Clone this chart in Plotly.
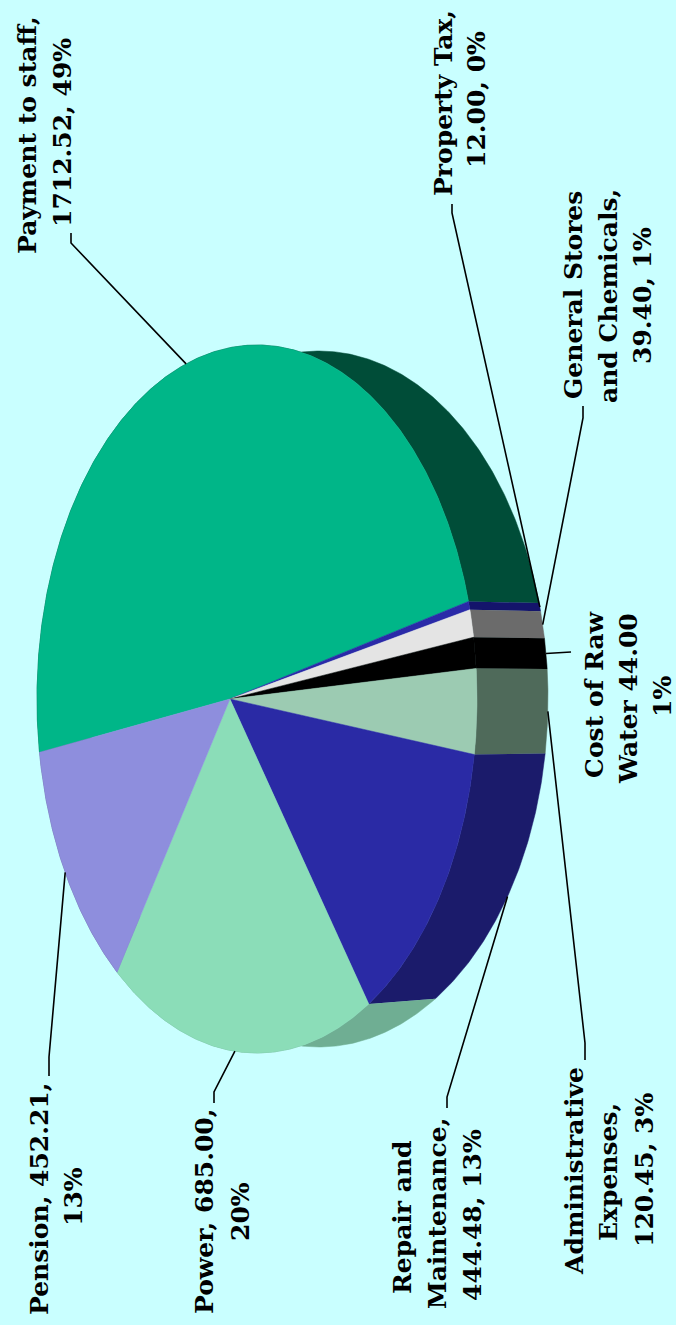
import numpy as np
import plotly.graph_objects as go

# Cost heads, clockwise from the start of the largest slice
categories = ["Payment to staff", "Property Tax", "General Stores and Chemicals", "Cost of Raw Water",
              "Administrative Expenses", "Repair and Maintenance", "Power", "Pension"]
values = [1712.52, 12.00, 39.40, 44.00, 120.45, 444.48, 685.00, 452.21]

top_colors = ["#00B688", "#2A2AA8", "#E4E4E4", "#000000", "#9CCBB2", "#2A2AA5", "#8BDDB8", "#8E8EDD"]
wall_colors = ["#004D38", "#14146B", "#6B6B6B", "#000000", "#4F6A5A", "#1B1B6B", "#6FAE93", "#5F5F95"]

# Label lines as (text, x centre, y centre)
label_lines = [
    [("Payment to staff,", 27, 135), ("1712.52, 49%", 62, 133)],
    [("Property Tax,", 443, 103), ("12.00, 0%", 476, 100)],
    [("General Stores", 573, 295), ("and Chemicals,", 608, 296), ("39.40, 1%", 642, 296)],
    [("Cost of Raw", 594, 694), ("Water 44.00", 628, 699), ("1%", 662, 697)],
    [("Administrative", 574, 1171), ("Expenses,", 608, 1172), ("120.45, 3%", 644, 1170)],
    [("Repair and", 402, 1217), ("Maintenance,", 437, 1214), ("444.48, 13%", 472, 1215)],
    [("Power, 685.00,", 204, 1212), ("20%", 240, 1212)],
    [("Pension, 452.21,", 39, 1199), ("13%", 73, 1197)],
]

# Leader line bends on the way to each label
leader_paths = [
    [(71, 243), (71, 233)],
    [(452, 213), (452, 204)],
    [(583, 418), (583, 406)],
    [(571, 652)],
    [(585, 1043), (585, 1060)],
    [(447, 1097), (447, 1108)],
    [(214, 1092), (214, 1103)],
    [(49, 1057), (49, 1076)],
]

BACKGROUND = "#C9FFFF"
START_DEG = 170.2
TOP = dict(cx=257, cy=699, a=220, b=354)
BOTTOM = dict(cx=319, cy=699, a=229, b=348)
TILT = -0.123


def project(theta_deg, face):
    """Perspective view of a point on the pie rim for an angle around its true circle."""
    t = np.radians(theta_deg)
    u0, v0 = np.cos(t), np.sin(t)
    d = 1 + TILT * u0
    u = (u0 + TILT) / d
    v = v0 * np.sqrt(1 - TILT ** 2) / d
    return face["cx"] + face["a"] * u, face["cy"] + face["b"] * v


total = sum(values)
sweeps = [v / total * 360 for v in values]
starts = START_DEG + np.concatenate([[0], np.cumsum(sweeps)[:-1]])
apex_x, apex_y = TOP["cx"] + TOP["a"] * TILT, TOP["cy"]

fig = go.Figure()


def polygon(xs, ys, color):
    fig.add_trace(go.Scatter(x=xs, y=ys, mode="lines", fill="toself", fillcolor=color,
                             line=dict(color=color, width=0.5), hoverinfo="skip", showlegend=False))


# Side walls first, so the top face covers whatever lies behind it
for start, sweep, color in zip(starts, sweeps, wall_colors):
    angles = np.linspace(start, start + sweep, max(4, int(sweep * 2)))
    tx, ty = project(angles, TOP)
    bx, by = project(angles[::-1], BOTTOM)
    polygon(np.concatenate([tx, bx]), np.concatenate([ty, by]), color)

for start, sweep, color in zip(starts, sweeps, top_colors):
    angles = np.linspace(start, start + sweep, max(4, int(sweep * 2)))
    tx, ty = project(angles, TOP)
    polygon(np.concatenate([[apex_x], tx, [apex_x]]), np.concatenate([[apex_y], ty, [apex_y]]), color)

# Leaders start on the visible rim at the middle of each slice
for start, sweep, path in zip(starts, sweeps, leader_paths):
    mid = start + sweep / 2
    face = BOTTOM if np.cos(np.radians(mid)) > 0.1 else TOP
    x0, y0 = project(mid, face)
    fig.add_trace(go.Scatter(x=[x0] + [p[0] for p in path], y=[y0] + [p[1] for p in path], mode="lines",
                             line=dict(color="#000000", width=1.6), hoverinfo="skip", showlegend=False))

for lines in label_lines:
    for text, x, y in lines:
        fig.add_annotation(x=x, y=y, text=text, textangle=-90, showarrow=False, xanchor="center", yanchor="middle",
                           font=dict(family="DejaVu Serif", size=25, color="#000000", weight="bold"))

fig.update_layout(
    width=676, height=1325, margin=dict(l=0, r=0, t=0, b=0), autosize=False,
    paper_bgcolor=BACKGROUND, plot_bgcolor=BACKGROUND, showlegend=False,
    xaxis=dict(range=[0, 676], visible=False, fixedrange=True),
    yaxis=dict(range=[1325, 0], visible=False, fixedrange=True),
)

fig.write_html("out.html", config=dict(displayModeBar=False))
